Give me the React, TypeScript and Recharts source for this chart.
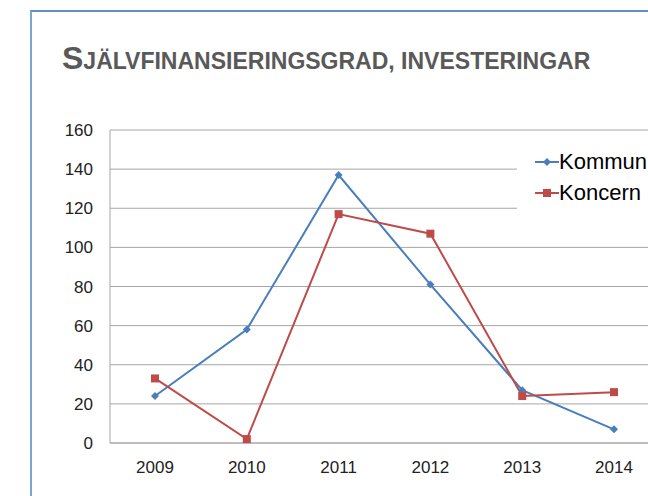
import React from "react";
import {
  LineChart,
  Line,
  XAxis,
  YAxis,
  CartesianGrid,
  Legend,
} from "recharts";

const years = ["2009", "2010", "2011", "2012", "2013", "2014"];
const kommun = [24, 58, 137, 81, 27, 7];
const koncern = [33, 2, 117, 107, 24, 26];
const yTicks = [0, 20, 40, 60, 80, 100, 120, 140, 160];

const data = years.map((year, i) => ({
  year,
  Kommun: kommun[i],
  Koncern: koncern[i],
}));

const BLUE = "#4a7ebb";
const RED = "#be4b48";

const Diamond = (props: any) => {
  const { cx, cy } = props;
  if (cx == null || cy == null) return null;
  return (
    <path
      d={`M${cx},${cy - 4}L${cx + 4},${cy}L${cx},${cy + 4}L${cx - 4},${cy}Z`}
      fill={BLUE}
    />
  );
};

const Square = (props: any) => {
  const { cx, cy } = props;
  if (cx == null || cy == null) return null;
  return <rect x={cx - 4} y={cy - 4} width={8} height={8} fill={RED} />;
};

const LegendBox = (props: any) => {
  const items = props.payload || [];
  return (
    <div style={{ background: "#fff", padding: "6px 0 6px 18px", width: 170 }}>
      {items.map((it: any) => (
        <div
          key={it.value}
          style={{ display: "flex", alignItems: "center", height: 31 }}
        >
          <svg width={24} height={12}>
            <line x1={0} y1={6} x2={24} y2={6} stroke={it.color} strokeWidth={2} />
            {it.value === "Kommun" ? (
              <path d="M12,2L16,6L12,10L8,6Z" fill={it.color} />
            ) : (
              <rect x={8} y={2} width={8} height={8} fill={it.color} />
            )}
          </svg>
          <span style={{ fontSize: 22, color: "#000", marginLeft: 0 }}>
            {it.value}
          </span>
        </div>
      ))}
    </div>
  );
};

export default function App() {
  return (
    <div
      style={{
        position: "absolute",
        left: 0,
        top: 0,
        width: 648,
        height: 496,
        overflow: "hidden",
        background: "#fff",
        fontFamily: "Arial, 'Liberation Sans', sans-serif",
      }}
    >
      <div
        style={{
          position: "absolute",
          left: 30,
          top: 10,
          width: 700,
          height: 600,
          borderLeft: "2px solid #7aa7cf",
          borderTop: "2px solid #5e8fbd",
        }}
      />
      <div
        style={{
          position: "absolute",
          left: 62,
          top: 42,
          color: "#595959",
          fontWeight: "bold",
          whiteSpace: "nowrap",
          lineHeight: 1,
        }}
      >
        <span style={{ fontSize: 32 }}>S</span>
        <span style={{ fontSize: 23 }}>JÄLVFINANSIERINGSGRAD, INVESTERINGAR</span>
      </div>
      <div style={{ position: "absolute", left: 0, top: 0 }}>
        <LineChart
          width={700}
          height={496}
          data={data}
          margin={{ top: 130, right: 41, bottom: 23, left: 50 }}
        >
          <CartesianGrid vertical={false} stroke="#a6a6a6" strokeWidth={1} />
          <XAxis
            dataKey="year"
            axisLine={{ stroke: "#a6a6a6" }}
            tickLine={false}
            tick={{ fontSize: 17, fill: "#222" }}
            tickMargin={12}
            padding={{ left: 45, right: 45 }}
          />
          <YAxis
            width={60}
            domain={[0, 160]}
            ticks={yTicks}
            axisLine={{ stroke: "#a6a6a6" }}
            tickLine={false}
            tick={{ fontSize: 17, fill: "#222" }}
            tickMargin={11}
            interval={0}
          />
          <Legend
            layout="vertical"
            verticalAlign="middle"
            align="center"
            content={<LegendBox />}
            wrapperStyle={{ left: 517, top: 140, width: 190 }}
          />
          <Line
            dataKey="Kommun"
            stroke={BLUE}
            strokeWidth={2}
            dot={<Diamond />}
            activeDot={false}
            isAnimationActive={false}
          />
          <Line
            dataKey="Koncern"
            stroke={RED}
            strokeWidth={2}
            dot={<Square />}
            activeDot={false}
            isAnimationActive={false}
          />
        </LineChart>
      </div>
    </div>
  );
}
